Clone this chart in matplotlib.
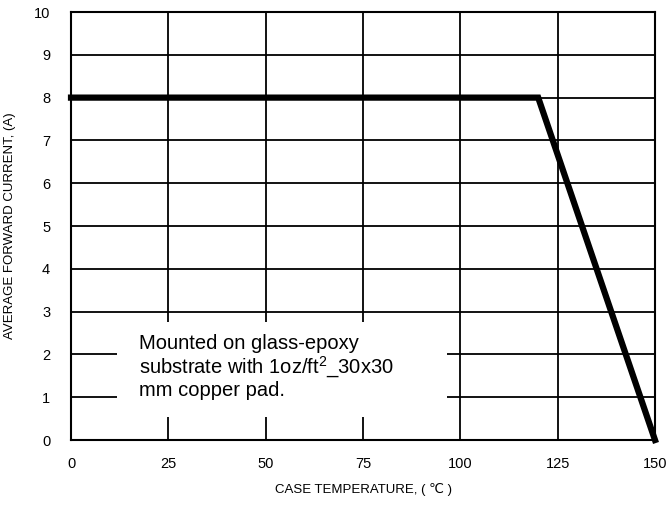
import matplotlib.pyplot as plt
from matplotlib.patches import Rectangle

plt.rcParams['font.family'] = ['Liberation Sans', 'DejaVu Sans']
plt.rcParams['mathtext.fontset'] = 'custom'
plt.rcParams['mathtext.rm'] = 'Liberation Sans'

# derating curve
temp = [0, 120, 150]
current = [8, 8, 0]

x_ticks = [0, 25, 50, 75, 100, 125, 150]
y_ticks = list(range(0, 11))

fig = plt.figure(figsize=(6.72, 5.07), dpi=100)
ax = fig.add_axes([0.1057, 0.1321, 0.869, 0.8442])

ax.set_xlim(0, 150)
ax.set_ylim(0, 10)
ax.set_xticks(x_ticks)
ax.set_yticks(y_ticks)
ax.tick_params(length=0, labelsize=10.5)
ax.tick_params(axis='x', pad=12)
ax.tick_params(axis='y', pad=15)
ax.grid(True, color='black', lw=1.3, zorder=1)
ax.set_axisbelow(True)
for s in ax.spines.values():
    s.set_linewidth(1.5)

# white box behind the note
ax.add_patch(Rectangle((11.8, 0.54), 84.8, 2.22, facecolor='white',
                       edgecolor='none', zorder=2))
ax.text(17.5, 2.47, 'Mounted on glass-epoxy\nsubstrate with 1oz/ft$^{2}$_30x30\nmm copper pad.',
        fontsize=14.5, va='top', ha='left', linespacing=1.07, zorder=3)

ax.plot(temp, current, color='black', lw=4.5, solid_joinstyle='miter', zorder=4, clip_on=False)

ax.set_xlabel('CASE TEMPERATURE, ( ℃ )', fontsize=9.5, labelpad=9)
ax.set_ylabel('AVERAGE FORWARD CURRENT, (A)', fontsize=9.5, labelpad=13)

fig.savefig('out.png', dpi=100)
